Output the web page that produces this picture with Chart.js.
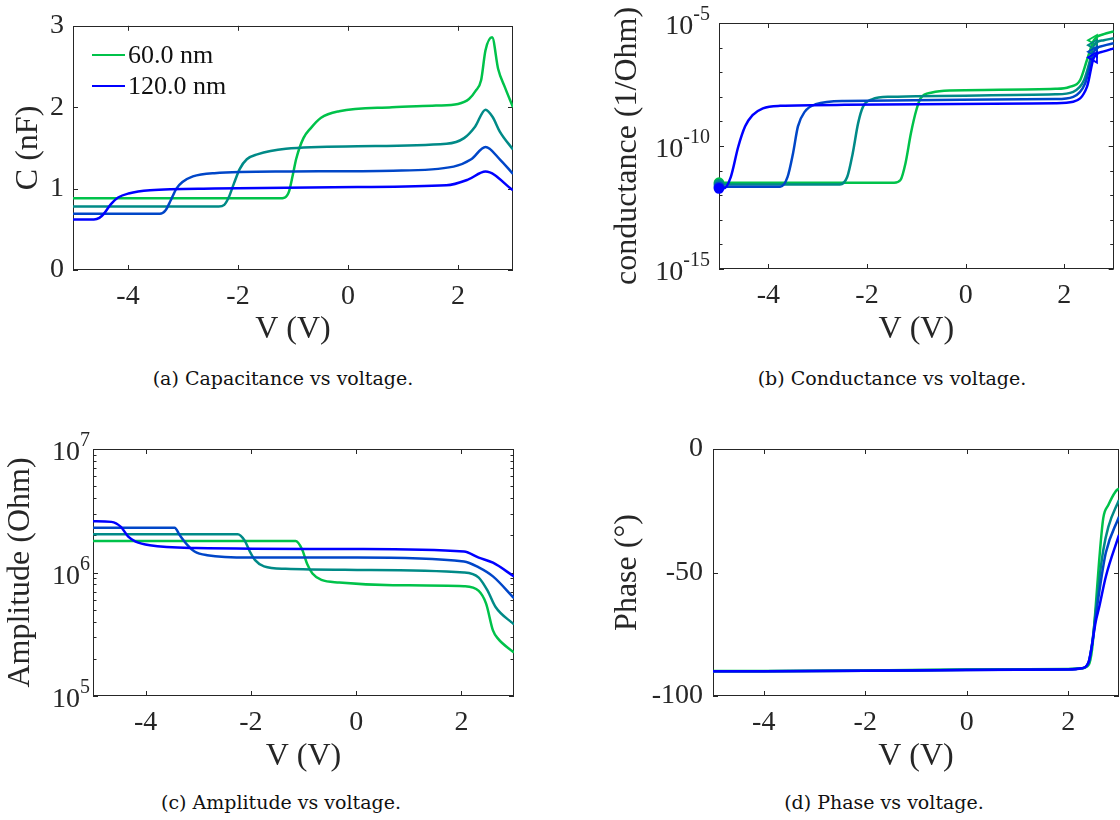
<!DOCTYPE html>
<html>
<head>
<meta charset="utf-8">
<script src="https://cdn.jsdelivr.net/npm/chart.js@4.4.0/dist/chart.umd.min.js"></script>
<style>
  body { margin: 0; background: #fff; width: 1120px; height: 820px; position: relative; overflow: hidden; }
  canvas { position: absolute; }
  .caption { position: absolute; font-family: "DejaVu Serif", serif; font-size: 19px; color: #111;
             transform: translateX(-50%); white-space: nowrap; line-height: 22px; }
  .legend-row { position: absolute; height: 30px; display: flex; align-items: center;
                font-family: "Liberation Serif", "Times New Roman", serif; font-size: 26px; color: #111; white-space: nowrap; }
  .legend-row span.swatch { display: inline-block; width: 33px; height: 2.5px; margin-right: 3px; }
</style>
</head>
<body>
<canvas id="capChart"></canvas>
<canvas id="condChart"></canvas>
<canvas id="ampChart"></canvas>
<canvas id="phaseChart"></canvas>
<div id="capLegend"></div>
<div class="caption" style="left:283px; top:367px">(a) Capacitance vs voltage.</div>
<div class="caption" style="left:892px; top:367px">(b) Conductance vs voltage.</div>
<div class="caption" style="left:281px; top:791px">(c) Amplitude vs voltage.</div>
<div class="caption" style="left:884px; top:791px">(d) Phase vs voltage.</div>
<script>
// series names and colours (thin film -> thick film)
const thickness = ['60.0 nm', '80.0 nm', '100.0 nm', '120.0 nm'];
const lineColors = ['#00c24a', '#008a87', '#0046c8', '#0000ff'];
const legendShown = [0, 3];

// tick values
const xTickVals = [-4, -2, 0, 2];
const capTicks = [0, 1, 2, 3];
const condTicks = [1e-15, 1e-10, 1e-5];
const condMinor = [1e-14, 1e-13, 1e-12, 1e-11, 1e-9, 1e-8, 1e-7, 1e-6];
const ampTicks = [1e5, 1e6, 1e7];
const ampMinor = [2e5, 3e5, 4e5, 5e5, 6e5, 7e5, 8e5, 9e5, 2e6, 3e6, 4e6, 5e6, 6e6, 7e6, 8e6, 9e6];
const phaseTicks = [-100, -50, 0];

// (a) capacitance (nF) vs voltage (V)
const capV60 = [-5, -1.25, -1.15, -1.07, -1.0, -0.94, -0.81, -0.68, -0.49, -0.16, 0.8, 1.6, 2.0, 2.2, 2.32, 2.42, 2.5, 2.62, 2.73, 2.85, 3.0];
const capC60 = [0.88, 0.88, 0.89, 0.97, 1.18, 1.37, 1.62, 1.74, 1.87, 1.95, 2.0, 2.02, 2.04, 2.1, 2.2, 2.33, 2.7, 2.86, 2.47, 2.25, 2.0];
const capV80 = [-5, -2.35, -2.25, -2.17, -2.07, -1.97, -1.84, -1.65, -1.13, 0.17, 1.79, 2.11, 2.31, 2.5, 2.63, 2.76, 3.0];
const capC80 = [0.78, 0.78, 0.8, 0.89, 1.07, 1.24, 1.36, 1.42, 1.49, 1.52, 1.55, 1.62, 1.76, 1.97, 1.88, 1.7, 1.48];
const capV100 = [-5, -3.42, -3.32, -3.22, -3.12, -3.01, -2.82, -2.43, -1.13, 0.82, 1.92, 2.24, 2.5, 2.76, 3.0];
const capC100 = [0.69, 0.69, 0.73, 0.86, 1.0, 1.08, 1.15, 1.19, 1.21, 1.22, 1.27, 1.36, 1.51, 1.36, 1.18];
const capV120 = [-5, -4.62, -4.52, -4.44, -4.31, -4.18, -3.99, -3.6, -2.43, 0.17, 1.79, 2.18, 2.5, 3.0];
const capC120 = [0.62, 0.62, 0.64, 0.69, 0.81, 0.89, 0.94, 0.98, 1.0, 1.02, 1.04, 1.11, 1.21, 0.98];

// (b) conductance (1/Ohm) vs voltage (V)
const condMarkV = 2.6;
const condV60 = [-5, -1.45, -1.32, -1.22, -1.11, -1.0, -0.91, -0.68, -0.32, 1.82, 2.1, 2.32, 2.46, 2.6, 2.8, 3.0];
const condG60 = [3.2e-12, 3.2e-12, 4.2e-12, 2.0e-11, 3.3e-10, 2.9e-9, 8.9e-9, 1.5e-8, 1.8e-8, 2.1e-8, 2.5e-8, 4.8e-8, 3.2e-7, 2.0e-6, 3.5e-6, 4.5e-6];
const condV80 = [-5, -2.55, -2.4, -2.29, -2.18, -2.08, -1.9, -1.54, 1.82, 2.18, 2.4, 2.54, 2.6, 2.8, 3.0];
const condG80 = [2.75e-12, 2.75e-12, 5.6e-12, 5.0e-11, 8.5e-10, 4.0e-9, 7.9e-9, 1.0e-8, 1.26e-8, 1.6e-8, 4.8e-8, 4.3e-7, 1.26e-6, 2.0e-6, 2.4e-6];
const condV100 = [-5, -3.76, -3.61, -3.5, -3.4, -3.26, -3.04, -2.46, 1.82, 2.18, 2.42, 2.6, 2.8, 3.0];
const condG100 = [2.2e-12, 2.2e-12, 5.6e-12, 5.0e-11, 6.3e-10, 2.5e-9, 5.0e-9, 6.8e-9, 8.1e-9, 1.0e-8, 3.5e-8, 6.8e-7, 1.2e-6, 1.5e-6];
const condV120 = [-5, -4.9, -4.76, -4.61, -4.47, -4.32, -4.11, -3.76, -2.46, 1.82, 2.18, 2.46, 2.6, 2.8, 3.0];
const condG120 = [1.9e-12, 1.9e-12, 5.6e-12, 9.3e-11, 6.3e-10, 1.8e-9, 3.4e-9, 4.3e-9, 4.7e-9, 5.5e-9, 6.3e-9, 2.6e-8, 4.0e-7, 7.0e-7, 9.3e-7];

// (c) impedance amplitude (Ohm) vs voltage (V)
const ampV60 = [-5, -1.15, -1.03, -0.93, -0.83, -0.66, -0.32, 0.7, 2.05, 2.33, 2.47, 2.6, 2.7, 3.0];
const ampZ60 = [1.8e6, 1.8e6, 1.55e6, 1.17e6, 9.8e5, 8.7e5, 8.3e5, 7.9e5, 7.75e5, 7.1e5, 5.6e5, 3.4e5, 2.9e5, 2.25e5];
const ampV80 = [-5, -2.25, -2.12, -2.02, -1.92, -1.75, -1.34, 0.02, 2.05, 2.33, 2.5, 2.65, 3.0];
const ampZ80 = [2.04e6, 2.04e6, 1.82e6, 1.48e6, 1.26e6, 1.12e6, 1.07e6, 1.05e6, 1.0e6, 9.1e5, 7.1e5, 5.25e5, 3.8e5];
const ampV100 = [-5, -3.45, -3.35, -3.2, -3.07, -2.83, -2.02, 0.02, 2.05, 2.33, 2.6, 3.0];
const ampZ100 = [2.3e6, 2.3e6, 2.0e6, 1.66e6, 1.48e6, 1.38e6, 1.32e6, 1.32e6, 1.23e6, 1.1e6, 9.3e5, 6.2e5];
const ampV120 = [-5, -4.65, -4.47, -4.33, -4.19, -3.92, -3.04, 0.0, 2.05, 2.33, 2.6, 3.0];
const ampZ120 = [2.6e6, 2.57e6, 2.34e6, 1.95e6, 1.78e6, 1.66e6, 1.58e6, 1.55e6, 1.48e6, 1.32e6, 1.2e6, 9.3e5];

// (d) phase (deg) vs voltage (V)
const phV60 = [-5, -2, 0, 2.0, 2.26, 2.4, 2.47, 2.54, 2.61, 2.69, 2.79, 2.93, 3.0];
const phP60 = [-89.9, -89.7, -89.3, -89.1, -88.8, -87.5, -81, -64, -45, -28, -22.7, -17.3, -15.9];
const phV80 = [-5, -2, 0, 2.0, 2.26, 2.4, 2.47, 2.54, 2.61, 2.69, 2.79, 3.0];
const phP80 = [-90, -89.8, -89.4, -89.2, -88.8, -86.5, -79, -66, -53, -41, -31.5, -20.6];
const phV100 = [-5, -2, 0, 2.0, 2.26, 2.4, 2.47, 2.54, 2.61, 2.74, 3.0];
const phP100 = [-90, -89.8, -89.5, -89.2, -88.8, -86.5, -79, -68, -58, -42, -27.4];
const phV120 = [-5, -2, 0, 2.0, 2.26, 2.4, 2.47, 2.54, 2.61, 2.74, 3.0];
const phP120 = [-90, -89.8, -89.5, -89.3, -88.8, -86.3, -79, -70, -64, -51.7, -34.8];

const serif = '"Liberation Serif", "Times New Roman", serif';
Chart.defaults.font.family = serif;
Chart.defaults.color = '#262626';

const tickSize = 28;
const expSize = 20;
const titleSize = 32;
const halfTitle = titleSize * 1.2 / 2;

function pts(xs, ys) {
    return xs.map((x, i) => ({x: x, y: ys[i]}));
}

function makeSeries(vs, ys) {
    return thickness.map((name, i) => ({
        label: name,
        data: pts(vs[i], ys[i]),
        borderColor: lineColors[i],
        backgroundColor: lineColors[i],
        borderWidth: 2.5,
        pointRadius: 0,
        cubicInterpolationMode: 'monotone',
        order: thickness.length - i
    }));
}

// MATLAB-like box with inward ticks on all four sides
const boxPlugin = {
    id: 'matlabBox',
    beforeDatasetsDraw(chart, args, opts) {
        const {ctx, chartArea: a, scales: {x, y}} = chart;
        ctx.save();
        ctx.strokeStyle = '#262626';
        ctx.lineWidth = 1;
        ctx.beginPath();
        x.ticks.forEach(t => {
            const px = Math.round(x.getPixelForValue(t.value)) + 0.5;
            ctx.moveTo(px, a.bottom); ctx.lineTo(px, a.bottom - 5);
            ctx.moveTo(px, a.top); ctx.lineTo(px, a.top + 5);
        });
        y.ticks.forEach(t => {
            const py = Math.round(y.getPixelForValue(t.value)) + 0.5;
            ctx.moveTo(a.left, py); ctx.lineTo(a.left + 5, py);
            ctx.moveTo(a.right, py); ctx.lineTo(a.right - 5, py);
        });
        (opts.minor || []).forEach(v => {
            const py = Math.round(y.getPixelForValue(v)) + 0.5;
            ctx.moveTo(a.left, py); ctx.lineTo(a.left + 3.5, py);
            ctx.moveTo(a.right, py); ctx.lineTo(a.right - 3.5, py);
        });
        ctx.stroke();
        ctx.strokeRect(Math.round(a.left) + 0.5, Math.round(a.top) + 0.5,
                       Math.round(a.right - a.left) - 1, Math.round(a.bottom - a.top) - 1);
        ctx.restore();
    },
    // log axes: "10" with a raised exponent, drawn next to each major tick
    afterDraw(chart, args, opts) {
        if (!opts.powPad) return;
        const {ctx, chartArea: a, scales: {y}} = chart;
        ctx.save();
        ctx.fillStyle = '#262626';
        ctx.textBaseline = 'middle';
        ctx.textAlign = 'right';
        y.ticks.forEach(t => {
            const py = y.getPixelForValue(t.value);
            const exp = String(Math.round(Math.log10(t.value)));
            const xr = a.left - opts.powPad;
            ctx.font = expSize + 'px ' + serif;
            const we = ctx.measureText(exp).width;
            ctx.fillText(exp, xr, py - 8);
            ctx.font = tickSize + 'px ' + serif;
            ctx.fillText('10', xr - we, py + 4);
        });
        ctx.restore();
    }
};

function drawPanel(id, box, area, yTitleX, xTitleY, yScale, datasets, plugins) {
    const cv = document.getElementById(id);
    cv.width = box.w;
    cv.height = box.h;
    cv.style.left = box.left + 'px';
    cv.style.top = box.top + 'px';

    const yTitle = yScale.titleText;
    delete yScale.titleText;
    Object.assign(yScale, {
        afterFit: s => { s.width = area.l - box.left; },
        grid: {display: false, drawTicks: false},
        border: {display: false},
        title: {display: true, text: yTitle, font: {size: titleSize},
                padding: {top: yTitleX - box.left - halfTitle, bottom: 0}}
    });
    yScale.ticks = Object.assign({font: {size: tickSize}, autoSkip: false}, yScale.ticks);

    return new Chart(cv, {
        type: 'line',
        data: {datasets: datasets},
        options: {
            responsive: false,
            animation: false,
            events: [],
            layout: {padding: {top: area.t - box.top, right: box.left + box.w - area.r, left: 0, bottom: 0}},
            scales: {
                x: {
                    type: 'linear', min: -5, max: 3,
                    afterBuildTicks: s => { s.ticks = xTickVals.map(v => ({value: v})); },
                    afterFit: s => { s.height = box.top + box.h - area.b; },
                    grid: {display: false, drawTicks: false},
                    border: {display: false},
                    ticks: {font: {size: tickSize}, padding: 10, autoSkip: false, maxRotation: 0,
                            callback: v => String(v)},
                    title: {display: true, text: 'V (V)', font: {size: titleSize},
                            padding: {top: 0, bottom: box.top + box.h - xTitleY - halfTitle}}
                },
                y: yScale
            },
            plugins: Object.assign({
                legend: {display: false},
                tooltip: {enabled: false}
            }, plugins)
        },
        plugins: [boxPlugin]
    });
}

// (a) capacitance
const capSets = makeSeries([capV60, capV80, capV100, capV120], [capC60, capC80, capC100, capC120]);
drawPanel('capChart', {left: 0, top: 0, w: 560, h: 350}, {l: 73, t: 23, r: 513, b: 270}, 29, 330, {
    type: 'linear', min: 0, max: 3, titleText: 'C (nF)',
    afterBuildTicks: s => { s.ticks = capTicks.map(v => ({value: v})); },
    ticks: {padding: 9, callback: v => String(v)}
}, capSets, {matlabBox: {}});

// legend inside the capacitance axes (first and last thickness only)
const legendBox = document.getElementById('capLegend');
legendShown.forEach((idx, row) => {
    const div = document.createElement('div');
    div.className = 'legend-row';
    div.style.left = '92px';
    div.style.top = (40 + row * 31) + 'px';
    const sw = document.createElement('span');
    sw.className = 'swatch';
    sw.style.background = lineColors[idx];
    div.appendChild(sw);
    div.appendChild(document.createTextNode(thickness[idx]));
    legendBox.appendChild(div);
});

// (b) conductance, with start dots and arrow markers near the top end
const condSets = makeSeries([condV60, condV80, condV100, condV120], [condG60, condG80, condG100, condG120]);
condSets.forEach(ds => {
    const kind = c => c.dataIndex === 0 ? 'start' : (c.raw && c.raw.x === condMarkV ? 'mark' : '');
    ds.clip = false;
    ds.pointRadius = c => kind(c) === 'start' ? 4.5 : (kind(c) === 'mark' ? 6 : 0);
    ds.pointStyle = c => kind(c) === 'mark' ? 'triangle' : 'circle';
    ds.pointRotation = c => kind(c) === 'mark' ? -90 : 0;
    ds.pointBorderWidth = 1.8;
    ds.pointBackgroundColor = c => kind(c) === 'mark' ? 'rgba(255,255,255,0)' : ds.borderColor;
});
drawPanel('condChart', {left: 560, top: 0, w: 560, h: 350}, {l: 719, t: 23, r: 1119, b: 269}, 628, 330, {
    type: 'logarithmic', min: 1e-15, max: 1e-5, titleText: 'conductance (1/Ohm)',
    afterBuildTicks: s => { s.ticks = condTicks.map(v => ({value: v})); },
    ticks: {display: false}
}, condSets, {matlabBox: {minor: condMinor, powPad: 9}});

// (c) amplitude
const ampSets = makeSeries([ampV60, ampV80, ampV100, ampV120], [ampZ60, ampZ80, ampZ100, ampZ120]);
drawPanel('ampChart', {left: 0, top: 420, w: 560, h: 360}, {l: 93, t: 449, r: 514, b: 696}, 21, 757, {
    type: 'logarithmic', min: 1e5, max: 1e7, titleText: 'Amplitude (Ohm)',
    afterBuildTicks: s => { s.ticks = ampTicks.map(v => ({value: v})); },
    ticks: {display: false}
}, ampSets, {matlabBox: {minor: ampMinor, powPad: 3}});

// (d) phase
const phSets = makeSeries([phV60, phV80, phV100, phV120], [phP60, phP80, phP100, phP120]);
drawPanel('phaseChart', {left: 560, top: 420, w: 560, h: 360}, {l: 713, t: 449, r: 1119, b: 696}, 628, 757, {
    type: 'linear', min: -100, max: 0, titleText: 'Phase (\u00b0)',
    afterBuildTicks: s => { s.ticks = phaseTicks.map(v => ({value: v})); },
    ticks: {padding: 10, callback: v => String(v)}
}, phSets, {matlabBox: {}});
</script>
</body>
</html>
